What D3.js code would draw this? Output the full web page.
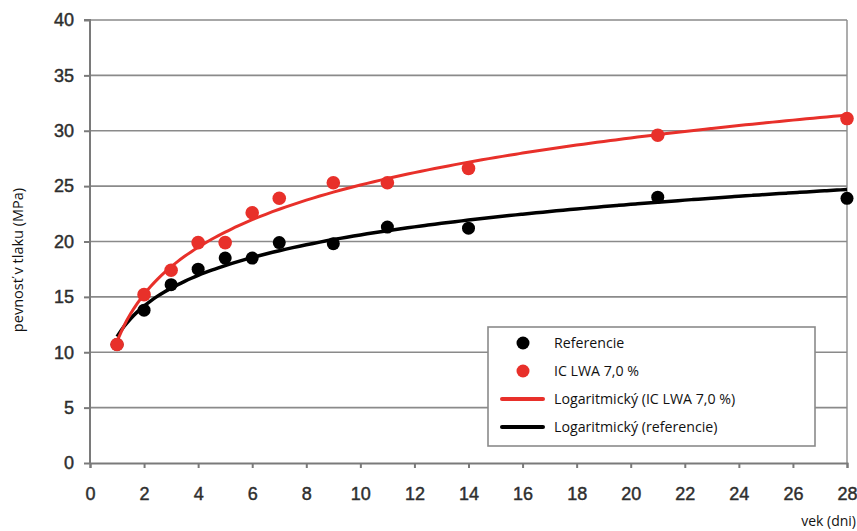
<!DOCTYPE html>
<html>
<head>
<meta charset="utf-8">
<script src="https://cdn.jsdelivr.net/npm/d3@7"></script>
<style>
  html, body { margin: 0; padding: 0; background: #fff; }
  svg { display: block; }
</style>
</head>
<body>
<svg id="chart" width="857" height="531"></svg>
<script>
// Compressive strength vs. age
const days = [1, 2, 3, 4, 5, 6, 7, 9, 11, 14, 21, 28];
const referencie = [10.7, 13.8, 16.1, 17.5, 18.5, 18.5, 19.9, 19.8, 21.3, 21.2, 24.0, 23.9];
const icLwa = [10.7, 15.2, 17.4, 19.9, 19.9, 22.6, 23.9, 25.3, 25.3, 26.6, 29.6, 31.1];
const xTicks = d3.range(0, 29, 2);
const yTicks = d3.range(0, 41, 5);

const svg = d3.select("#chart");
const x = d3.scaleLinear().domain([0, 28]).range([90, 847]);
const y = d3.scaleLinear().domain([0, 40]).range([463, 20]);

const red = "#e8302a";
const gridColor = "#8a8a8a";
const axisColor = "#7a7a7a";
const labelFont = "'Open Sans', sans-serif";

// Horizontal gridlines
svg.append("g").selectAll("line").data(yTicks.filter(d => d > 0)).join("line")
  .attr("x1", x(0)).attr("x2", x(28))
  .attr("y1", d => y(d)).attr("y2", d => y(d))
  .attr("stroke", gridColor).attr("stroke-width", 1.6);

// Right border
svg.append("line").attr("x1", x(28)).attr("x2", x(28))
  .attr("y1", y(40)).attr("y2", y(0))
  .attr("stroke", gridColor).attr("stroke-width", 1.4);

// Y axis
const yAxis = d3.axisLeft(y).tickValues(yTicks).tickSize(6).tickPadding(10).tickFormat(d3.format("d"));
const gy = svg.append("g").attr("transform", `translate(${x(0)},0)`).call(yAxis);
// X axis
const xAxis = d3.axisBottom(x).tickValues(xTicks).tickSize(5).tickPadding(19).tickFormat(d3.format("d"));
const gx = svg.append("g").attr("transform", `translate(0,${y(0)})`).call(xAxis);

[gx, gy].forEach(g => {
  g.select(".domain").attr("stroke", axisColor).attr("stroke-width", 2);
  g.selectAll(".tick line").attr("stroke", axisColor).attr("stroke-width", 2);
  g.selectAll(".tick text")
    .attr("fill", "#2e2e2e")
    .attr("stroke", "#2e2e2e").attr("stroke-width", 0.45)
    .style("font-family", "'Liberation Sans', Arial, sans-serif")
    .style("font-size", "18px");
});
gy.select(".domain").attr("d", `M-6,${y(40)}H0V${y(0)}`);

// Logarithmic least-squares trend: v = a*ln(t) + b
function logFit(ts, vs) {
  const lx = ts.map(Math.log);
  const mx = d3.mean(lx), my = d3.mean(vs);
  const a = d3.sum(lx, (l, i) => (l - mx) * (vs[i] - my)) / d3.sum(lx, l => (l - mx) ** 2);
  const b = my - a * mx;
  return t => a * Math.log(t) + b;
}
const samples = d3.range(1, 28.001, 0.25);
const line = d3.line().x(d => x(d[0])).y(d => y(d[1])).curve(d3.curveMonotoneX);

const fitRef = logFit(days, referencie);
const fitIc = logFit(days, icLwa);

svg.append("path").datum(samples.map(t => [t, fitRef(t)]))
  .attr("d", line).attr("fill", "none").attr("stroke", "#000").attr("stroke-width", 3.5);
svg.append("path").datum(samples.map(t => [t, fitIc(t)]))
  .attr("d", line).attr("fill", "none").attr("stroke", red).attr("stroke-width", 3);

// Data points
svg.append("g").selectAll("circle").data(days).join("circle")
  .attr("cx", d => x(d)).attr("cy", (d, i) => y(referencie[i]))
  .attr("r", 6.5).attr("fill", "#000");
svg.append("g").selectAll("circle").data(days).join("circle")
  .attr("cx", d => x(d)).attr("cy", (d, i) => y(icLwa[i]))
  .attr("r", 6.8).attr("fill", red);

// Legend
const legendItems = [
  { label: "Referencie", type: "dot", color: "#000" },
  { label: "IC LWA 7,0 %", type: "dot", color: red },
  { label: "Logaritmický (IC LWA 7,0 %)", type: "line", color: red },
  { label: "Logaritmický (referencie)", type: "line", color: "#000" }
];
const lg = svg.append("g");
lg.append("rect").attr("x", 488).attr("y", 327).attr("width", 327).attr("height", 119)
  .attr("fill", "#fff").attr("stroke", "#8a8a8a").attr("stroke-width", 1.6);
const rows = lg.selectAll("g").data(legendItems).join("g")
  .attr("transform", (d, i) => `translate(0,${343 + i * 28})`);
rows.filter(d => d.type === "dot").append("circle")
  .attr("cx", 523).attr("cy", 0).attr("r", 6.5).attr("fill", d => d.color);
rows.filter(d => d.type === "line").append("line")
  .attr("x1", 502).attr("x2", 543).attr("y1", 0).attr("y2", 0)
  .attr("stroke", d => d.color).attr("stroke-width", 4).attr("stroke-linecap", "round");
rows.append("text").attr("x", 554).attr("y", 0).attr("dy", "0.35em")
  .attr("fill", "#111")
  .style("font-family", labelFont).style("font-size", "14.2px")
  .text(d => d.label);

// Axis titles
svg.append("text")
  .attr("transform", `translate(23,260) rotate(-90)`)
  .attr("text-anchor", "middle")
  .attr("fill", "#111")
  .style("font-family", labelFont).style("font-size", "14.5px")
  .text("pevnosť v tlaku (MPa)");
svg.append("text")
  .attr("x", 856).attr("y", 526).attr("text-anchor", "end")
  .attr("fill", "#111")
  .style("font-family", labelFont).style("font-size", "14px")
  .text("vek (dni)");
</script>
</body>
</html>
